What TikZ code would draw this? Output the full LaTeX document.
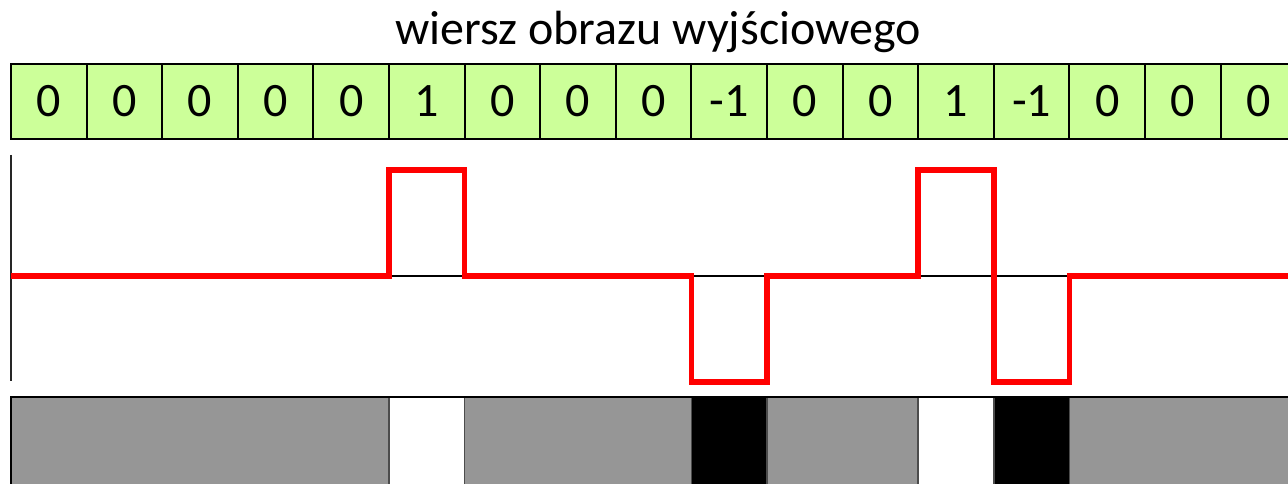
\documentclass[tikz,border=0pt]{standalone}
\usepackage{fontspec}
\setmainfont{Carlito}
\definecolor{cellgreen}{RGB}{204,255,153}
\definecolor{bargray}{RGB}{150,150,150}
\begin{document}
\begin{tikzpicture}[x=1pt,y=-1pt,
  cell/.style={draw=black, line width=2pt, fill=cellgreen, minimum width=75.6pt,
    minimum height=75pt, inner sep=0pt, outer sep=0pt, anchor=north west,
    font=\fontsize{48}{52}\selectfont},
  titletext/.style={font=\fontsize{48}{52}\selectfont, anchor=base, inner sep=0pt},
  signal/.style={draw=red, line width=5.5pt, line join=miter},
  baseline/.style={draw=black, line width=1.5pt},
  axis/.style={draw=black!85, line width=2pt},
  barborder/.style={draw=black, line width=2.5pt},
  barsep/.style={draw=black!70, line width=1.5pt}]
\useasboundingbox (0,0) rectangle (1288,484);
\clip (0,0) rectangle (1288,484);
\fill[white] (0,0) rectangle (1288,484);
\node[titletext] (title) at (658,45) {wiersz obrazu wyjściowego};
\foreach \v [count=\i from 0] in {0,0,0,0,0,1,0,0,0,-1,0,0,1,-1,0,0,0}
  \node[cell] (c\i) at (11+75.6*\i,64) {\v};
\coordinate (base) at (0,276);
\coordinate (hi) at (0,170);
\coordinate (lo) at (0,382);
\coordinate (bartop) at (0,397);
\coordinate (barbot) at (0,490);
\coordinate (axtop) at (11,155);
\coordinate (axbot) at (11,381);
% bottom bar
\fill[bargray] (c0.west |- bartop) rectangle (c5.west |- barbot);
\fill[white] (c5.west |- bartop) rectangle (c6.west |- barbot);
\fill[bargray] (c6.west |- bartop) rectangle (c9.west |- barbot);
\fill[black] (c9.west |- bartop) rectangle (c10.west |- barbot);
\fill[bargray] (c10.west |- bartop) rectangle (c12.west |- barbot);
\fill[white] (c12.west |- bartop) rectangle (c13.west |- barbot);
\fill[black] (c13.west |- bartop) rectangle (c14.west |- barbot);
\fill[bargray] (c14.west |- bartop) rectangle (1300,490);
\foreach \k in {5,6,9,10,12,13,14}
  \draw[barsep] (c\k.west |- bartop) -- (c\k.west |- barbot);
\draw[barborder] (c0.west |- barbot) -- (c0.west |- bartop) -- (1300,397);
% axis and baseline
\draw[axis] (axtop) -- (axbot);
\draw[baseline] (c0.west |- base) -- (1300,276);
% signal
\draw[signal] (c0.west |- base) -- (c5.west |- base) -- (c5.west |- hi) -- (c5.east |- hi)
  -- (c5.east |- base) -- (c9.west |- base) -- (c9.west |- lo) -- (c9.east |- lo)
  -- (c9.east |- base) -- (c12.west |- base) -- (c12.west |- hi) -- (c12.east |- hi)
  -- (c12.east |- lo) -- (c13.east |- lo) -- (c13.east |- base) -- (1300,276);
\end{tikzpicture}
\end{document}
